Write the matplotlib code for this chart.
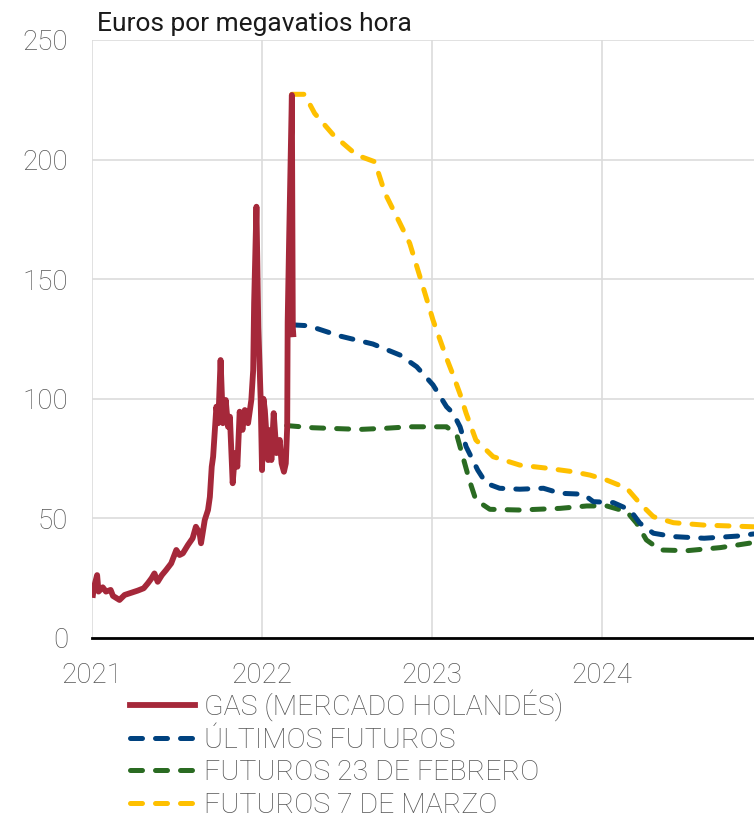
import numpy as np
import pandas as pd
import matplotlib
matplotlib.use("Agg")
import matplotlib.pyplot as plt

plt.rcParams['font.family'] = ['Roboto', 'DejaVu Sans']

# gas price, Dutch TTF market (EUR/MWh)
gas_dates = ['2021-01-03', '2021-01-05', '2021-01-12', '2021-01-15', '2021-01-24', '2021-01-31',
             '2021-02-10', '2021-02-15', '2021-03-01', '2021-03-12', '2021-03-26', '2021-04-09',
             '2021-04-22', '2021-05-01', '2021-05-09', '2021-05-15', '2021-05-22', '2021-05-31',
             '2021-06-09', '2021-06-20', '2021-07-01', '2021-07-08', '2021-07-15', '2021-07-26',
             '2021-08-05', '2021-08-12', '2021-08-20', '2021-08-23', '2021-08-31', '2021-09-07',
             '2021-09-11', '2021-09-15', '2021-09-18', '2021-09-25', '2021-09-29', '2021-10-04',
             '2021-10-09', '2021-10-15', '2021-10-20', '2021-10-24', '2021-10-30', '2021-11-04',
             '2021-11-09', '2021-11-14', '2021-11-20', '2021-11-25', '2021-12-02', '2021-12-09',
             '2021-12-13', '2021-12-15', '2021-12-20', '2021-12-24', '2021-12-29', '2022-01-01',
             '2022-01-04', '2022-01-07', '2022-01-14', '2022-01-19', '2022-01-21', '2022-01-26',
             '2022-02-01', '2022-02-08', '2022-02-12', '2022-02-17', '2022-02-21', '2022-02-24',
             '2022-02-25', '2022-02-28', '2022-03-06', '2022-03-08', '2022-03-09']
gas_vals = [18.0, 21.0, 26.3, 19.4, 21.2, 19.4,
            20.1, 17.6, 15.9, 18.0, 18.9, 19.8,
            20.8, 22.9, 25.0, 27.0, 23.5, 26.3,
            28.4, 31.2, 36.8, 34.7, 35.4, 38.9,
            41.7, 46.5, 43.8, 39.6, 49.3, 53.5,
            59.0, 71.6, 75.8, 96.7, 89.8, 116.2,
            89.8, 99.5, 88.3, 92.5, 64.7, 77.3,
            71.6, 94.6, 87.0, 95.3, 89.8, 99.5,
            112.0, 140.0, 180.3, 130.0, 100.0, 70.2,
            100.0, 95.3, 74.4, 87.0, 74.4, 94.0,
            77.3, 82.8, 73.0, 69.5, 73.0, 88.3,
            132.0, 165.0, 227.0, 130.0, 127.0]

# latest futures
last_dates = ['2022-03-08', '2022-04-05', '2022-04-27', '2022-06-16', '2022-08-27', '2022-10-24',
              '2022-11-29', '2023-01-03', '2023-02-01', '2023-02-15', '2023-03-02', '2023-03-15',
              '2023-04-09', '2023-04-27', '2023-05-26', '2023-07-08', '2023-08-28', '2023-10-03',
              '2023-11-22', '2023-12-13', '2024-01-25', '2024-03-01', '2024-03-22', '2024-04-20',
              '2024-06-02', '2024-08-07', '2024-10-17', '2024-11-21']
last_vals = [130.9, 130.6, 129.5, 126.3, 122.9, 118.3,
             113.4, 105.8, 96.7, 94.0, 88.3, 80.0,
             70.2, 64.7, 62.6, 62.2, 62.6, 60.5,
             60.1, 57.0, 56.6, 53.5, 48.0, 43.8,
             42.4, 41.7, 42.6, 43.5]

# futures on 23 February
feb_dates = ['2022-02-23', '2022-04-20', '2022-07-30', '2022-09-25', '2022-11-14', '2023-02-01',
             '2023-02-23', '2023-03-08', '2023-03-22', '2023-04-05', '2023-05-05', '2023-07-08',
             '2023-10-03', '2023-11-29', '2024-01-11', '2024-02-23', '2024-03-15', '2024-04-05',
             '2024-05-05', '2024-07-01', '2024-09-11', '2024-11-21']
feb_vals = [88.8, 87.9, 87.2, 87.7, 88.3, 88.3,
            84.9, 75.8, 66.0, 57.7, 53.8, 53.5,
            54.2, 55.2, 55.2, 52.8, 48.0, 41.0,
            36.8, 36.5, 37.8, 39.9]

# futures on 7 March
mar_dates = ['2022-03-06', '2022-04-02', '2022-04-24', '2022-06-03', '2022-07-23', '2022-08-31',
             '2022-09-22', '2022-10-24', '2022-11-14', '2022-12-06', '2023-01-03', '2023-02-01',
             '2023-02-15', '2023-03-02', '2023-03-15', '2023-04-05', '2023-05-12', '2023-07-08',
             '2023-09-04', '2023-10-31', '2023-12-06', '2024-01-11', '2024-02-23', '2024-03-22',
             '2024-04-20', '2024-06-02', '2024-08-07', '2024-11-21']
mar_vals = [227.3, 227.3, 219.3, 210.3, 201.9, 199.1,
            185.9, 173.4, 165.0, 151.0, 132.9, 117.0,
            110.0, 102.0, 94.0, 82.8, 75.8, 72.3,
            71.0, 69.5, 68.1, 66.0, 62.6, 56.3,
            50.7, 48.2, 47.2, 46.5]

labels = ['GAS (MERCADO HOLANDÉS)', 'ÚLTIMOS FUTUROS', 'FUTUROS 23 DE FEBRERO', 'FUTUROS 7 DE MARZO']
year_ticks = ['2021', '2022', '2023', '2024']
y_ticks = [0, 50, 100, 150, 200, 250]

c_gas = '#a5283a'
c_last = '#00427f'
c_feb = '#2a6b22'
c_mar = '#fec000'
grey = '#555555'

fig = plt.figure(figsize=(7.54, 8.23), dpi=100)
ax = fig.add_axes([92/754, 185/823, 662/754, 598/823])

dash = (0, (2.4, 2.6))
ax.plot(pd.to_datetime(mar_dates), mar_vals, color=c_mar, lw=3.6, ls=dash, dash_capstyle='round', zorder=3)
ax.plot(pd.to_datetime(feb_dates), feb_vals, color=c_feb, lw=3.6, ls=dash, dash_capstyle='round', zorder=3)
ax.plot(pd.to_datetime(last_dates), last_vals, color=c_last, lw=3.6, ls=dash, dash_capstyle='round', zorder=3)
ax.plot(pd.to_datetime(gas_dates), gas_vals, color=c_gas, lw=4.2, solid_joinstyle='round', zorder=4)

ax.set_xlim(pd.Timestamp('2021-01-01'), pd.Timestamp('2024-11-22'))
ax.set_ylim(0, 250)
ax.set_xticks(pd.to_datetime([y + '-01-01' for y in year_ticks]))
ax.set_xticklabels(year_ticks)
ax.set_yticks(y_ticks)
ax.grid(True, color='#dcdcdc', lw=1.2)
ax.set_axisbelow(True)
for s in ['top', 'right', 'left']:
    ax.spines[s].set_visible(False)
ax.spines['bottom'].set_color('black')
ax.spines['bottom'].set_linewidth(2)
ax.tick_params(length=0, labelsize=20, labelcolor=grey, pad=17)
for t in ax.get_xticklabels() + ax.get_yticklabels():
    t.set_fontweight('light')

fig.text(97/754, 1 - 31/823, 'Euros por megavatios hora', fontsize=19, color='#1a1a1a',
         va='baseline', ha='left')

handles = ax.get_lines()[::-1]
leg = fig.legend(handles, labels, loc='upper left', bbox_to_anchor=(130/754, 1 - 689/823),
                 frameon=False, fontsize=20.5, handlelength=2.3, handletextpad=0.3,
                 labelspacing=0.2, borderaxespad=0, borderpad=0)
for t in leg.get_texts():
    t.set_color(grey)
    t.set_fontweight('light')

fig.savefig('out.png', dpi=100)
